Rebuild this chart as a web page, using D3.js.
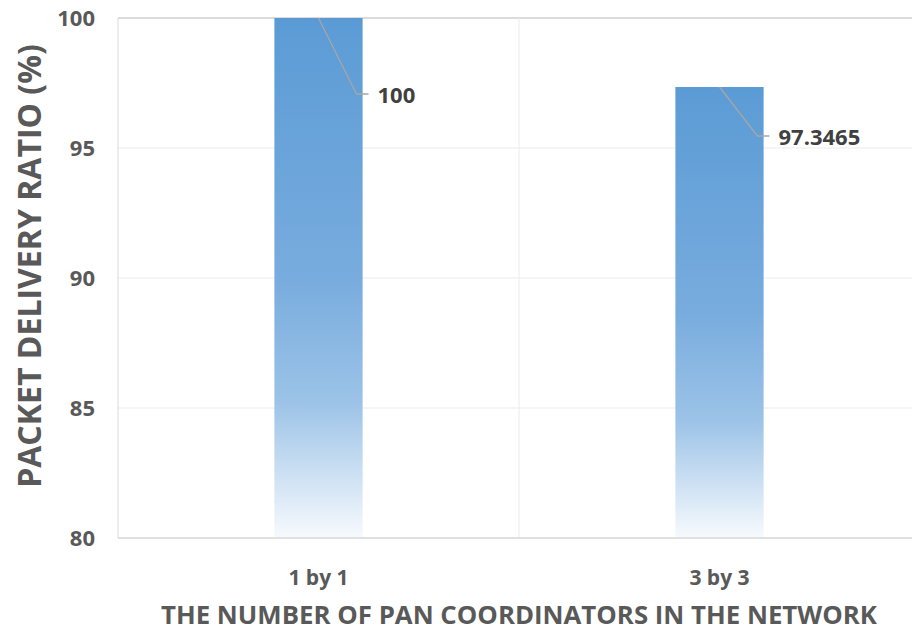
<!DOCTYPE html>
<html>
<head>
<meta charset="utf-8">
<script src="https://cdn.jsdelivr.net/npm/d3@7"></script>
<style>
  body { margin: 0; background: #fff; }
  text { font-family: "Open Sans", sans-serif; font-weight: bold; }
</style>
</head>
<body>
<div id="chart"></div>
<script>
const categories = ["1 by 1", "3 by 3"]
const values = [100, 97.3465]
const labelTexts = ["100", "97.3465"]
const yTicks = [80, 85, 90, 95, 100]

const width = 912
const height = 632
const margin = { top: 18, right: -8, bottom: 94, left: 118 }

// where Excel put each data label, relative to the bar top centre
const labelOffsets = [[38, 76], [38, 49]]

const x = d3.scaleBand()
    .domain(categories)
    .range([margin.left, width - margin.right])
    .paddingInner(0.78)
    .paddingOuter(0.39)

const y = d3.scaleLinear()
    .domain([80, 100])
    .range([height - margin.bottom, margin.top])

const svg = d3.select("#chart")
  .append("svg")
    .attr("width", width)
    .attr("height", height)

const grad = svg.append("defs").append("linearGradient")
    .attr("id", "barfill")
    .attr("x1", 0).attr("y1", 0).attr("x2", 0).attr("y2", 1)

grad.selectAll("stop")
  .data([[0, "#5b9bd5"], [0.5, "#78acde"], [0.74, "#9cc3e7"], [1, "#f7fafd"]])
  .join("stop")
    .attr("offset", d => d[0])
    .attr("stop-color", d => d[1])

// horizontal gridlines
svg.append("g")
  .selectAll("line")
  .data(yTicks)
  .join("line")
    .attr("x1", margin.left)
    .attr("x2", width)
    .attr("y1", d => y(d))
    .attr("y2", d => y(d))
    .attr("stroke", d => d === 100 ? "#d0d0d0" : "#ebebeb")
    .attr("stroke-width", d => d === 100 ? 1.5 : 1)

// vertical lines: left edge and category boundary
const step = x.step()
svg.append("g")
  .selectAll("line")
  .data([margin.left, x(categories[0]) + x.bandwidth() + (step - x.bandwidth()) / 2])
  .join("line")
    .attr("x1", d => d)
    .attr("x2", d => d)
    .attr("y1", margin.top)
    .attr("y2", height - margin.bottom)
    .attr("stroke", (d, i) => i === 0 ? "#d9d9d9" : "#ebebeb")

// bars
svg.append("g")
  .selectAll("rect")
  .data(values)
  .join("rect")
    .attr("x", (d, i) => x(categories[i]))
    .attr("y", d => y(d))
    .attr("width", x.bandwidth())
    .attr("height", d => y(80) - y(d))
    .attr("fill", "url(#barfill)")

// x axis line
svg.append("line")
    .attr("x1", margin.left)
    .attr("x2", width)
    .attr("y1", y(80))
    .attr("y2", y(80))
    .attr("stroke", "#d9d9d9")
    .attr("stroke-width", 1.5)

// y tick labels
svg.append("g")
  .selectAll("text")
  .data(yTicks)
  .join("text")
    .attr("x", 95)
    .attr("y", d => y(d))
    .attr("dy", "0.35em")
    .attr("text-anchor", "end")
    .attr("fill", "#595959")
    .style("font-size", "22px")
    .text(d => d)

// x tick labels
svg.append("g")
  .selectAll("text")
  .data(categories)
  .join("text")
    .attr("x", d => x(d) + x.bandwidth() / 2)
    .attr("y", 585)
    .attr("text-anchor", "middle")
    .attr("fill", "#595959")
    .style("font-size", "21px")
    .text(d => d)

// leader lines + data labels
const lbl = svg.append("g")
values.forEach((v, i) => {
  const cx = x(categories[i]) + x.bandwidth() / 2
  const cy = y(v)
  const [dx, dy] = labelOffsets[i]
  lbl.append("polyline")
      .attr("points", `${cx},${cy} ${cx + dx},${cy + dy} ${cx + dx + 12},${cy + dy}`)
      .attr("fill", "none")
      .attr("stroke", "#a6a6a6")
      .attr("stroke-width", 1.3)
  lbl.append("text")
      .attr("x", cx + dx + 21)
      .attr("y", cy + dy + 1)
      .attr("dy", "0.35em")
      .attr("fill", "#404040")
      .style("font-size", "22px")
      .text(labelTexts[i])
})

// axis titles
svg.append("text")
    .attr("transform", "translate(41,266) rotate(-90)")
    .attr("text-anchor", "middle")
    .attr("fill", "#595959")
    .style("font-size", "32px")
    .text("PACKET DELIVERY RATIO (%)")

svg.append("text")
    .attr("x", 519)
    .attr("y", 624)
    .attr("text-anchor", "middle")
    .attr("textLength", 716)
    .attr("lengthAdjust", "spacingAndGlyphs")
    .attr("fill", "#595959")
    .style("font-size", "25px")
    .text("THE NUMBER OF PAN COORDINATORS IN THE NETWORK")
</script>
</body>
</html>
